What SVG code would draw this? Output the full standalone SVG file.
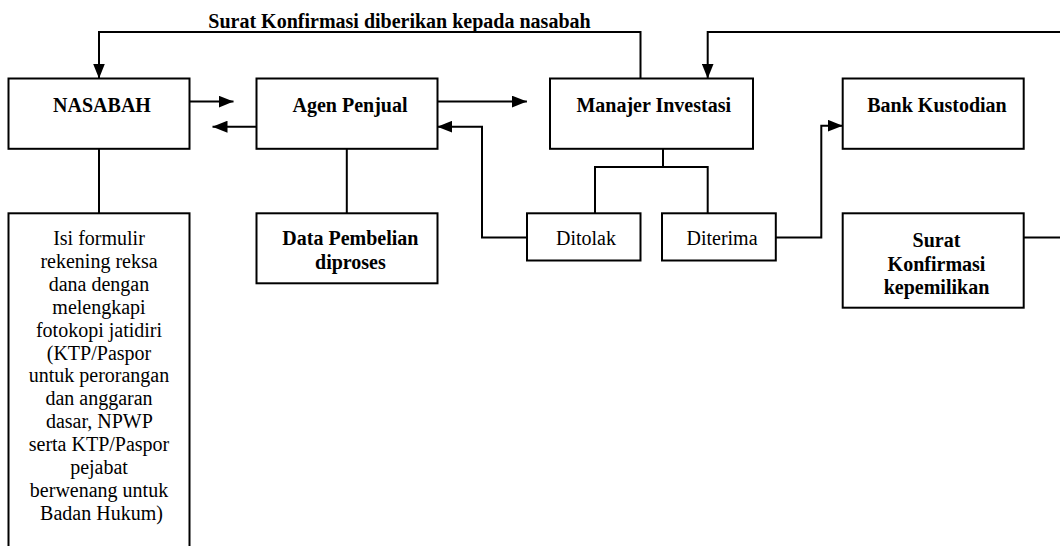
<svg xmlns="http://www.w3.org/2000/svg" width="1060" height="546" viewBox="0 0 1060 546" font-family="Liberation Serif, Times New Roman, serif" font-size="20">
<style>
.box{fill:#fff;stroke:#000;stroke-width:2}
.ln{fill:none;stroke:#000;stroke-width:2}
text{fill:#000;text-anchor:middle}
.b{font-weight:bold}
</style>
<defs>
<marker id="ah" markerUnits="userSpaceOnUse" markerWidth="15" markerHeight="12" refX="15" refY="6" orient="auto">
<path d="M0,0 L15,6 L0,12 z" fill="#000"/>
</marker>
</defs>
<rect width="1060" height="546" fill="#fff"/>
<g id="connectors">
<path class="ln" d="M640.5,78.5 V32 H99 V78.5" marker-end="url(#ah)"/>
<path class="ln" d="M1060,32 H707.7 V78.5" marker-end="url(#ah)"/>
<path class="ln" d="M189.4,101.6 H233.5" marker-end="url(#ah)"/>
<path class="ln" d="M256.5,126.7 H212.5" marker-end="url(#ah)"/>
<path class="ln" d="M437.3,101.6 H526.9" marker-end="url(#ah)"/>
<path class="ln" d="M527,237.5 H482 V126.7 H437.3" marker-end="url(#ah)"/>
<path class="ln" d="M775.8,237.5 H821.3 V125.7 H842.7" marker-end="url(#ah)"/>
<path class="ln" d="M663,148.8 V167 M595,213.3 V167 H707.7 V213.3"/>
<path class="ln" d="M99,148.8 V213.3"/>
<path class="ln" d="M346.8,148.8 V213.3"/>
<path class="ln" d="M1024,237.5 H1060"/>
<text class="b" x="399.5" y="27.5">Surat Konfirmasi diberikan kepada nasabah</text>
</g>
<g id="nasabah">
<rect class="box" x="8.5" y="78.5" width="181" height="70.3"/>
<text class="b" x="102" y="112">NASABAH</text>
</g>
<g id="agen">
<rect class="box" x="256.5" y="78.5" width="181" height="70.3"/>
<text class="b" x="350" y="112">Agen Penjual</text>
</g>
<g id="manajer">
<rect class="box" x="550" y="78.5" width="203" height="70.3"/>
<text class="b" x="653.7" y="112">Manajer Investasi</text>
</g>
<g id="bank">
<rect class="box" x="842.7" y="78.5" width="181" height="70.3"/>
<text class="b" x="937" y="112">Bank Kustodian</text>
</g>
<g id="isi">
<rect class="box" x="8.5" y="213.3" width="181" height="345"/>
<text x="101.5" y="245">
<tspan x="101.5" y="245">Isi formulir</tspan>
<tspan x="101.5" dy="22.9">rekening reksa</tspan>
<tspan x="101.5" dy="22.9">dana dengan</tspan>
<tspan x="101.5" dy="22.9">melengkapi</tspan>
<tspan x="101.5" dy="22.9">fotokopi jatidiri</tspan>
<tspan x="101.5" dy="22.9">(KTP/Paspor</tspan>
<tspan x="101.5" dy="22.9">untuk perorangan</tspan>
<tspan x="101.5" dy="22.9">dan anggaran</tspan>
<tspan x="101.5" dy="22.9">dasar, NPWP</tspan>
<tspan x="101.5" dy="22.9">serta KTP/Paspor</tspan>
<tspan x="101.5" dy="22.9">pejabat</tspan>
<tspan x="101.5" dy="22.9">berwenang untuk</tspan>
<tspan x="101.5" dy="22.9">Badan Hukum)</tspan>
</text>
</g>
<g id="data">
<rect class="box" x="256.5" y="213.3" width="181" height="70"/>
<text class="b" x="350.4" y="245"><tspan x="350.4" y="245">Data Pembelian</tspan><tspan x="350.4" y="269">diproses</tspan></text>
</g>
<g id="ditolak">
<rect class="box" x="527" y="213.3" width="113.5" height="47.2"/>
<text x="586" y="245">Ditolak</text>
</g>
<g id="diterima">
<rect class="box" x="662" y="213.3" width="113.8" height="47.2"/>
<text x="722" y="245">Diterima</text>
</g>
<g id="surat">
<rect class="box" x="842.7" y="213.3" width="181" height="94.4"/>
<text class="b" x="936.5" y="246.7"><tspan x="936.5" y="246.7">Surat</tspan><tspan x="936.5" y="270.8">Konfirmasi</tspan><tspan x="936.5" y="293.5">kepemilikan</tspan></text>
</g>
</svg>
